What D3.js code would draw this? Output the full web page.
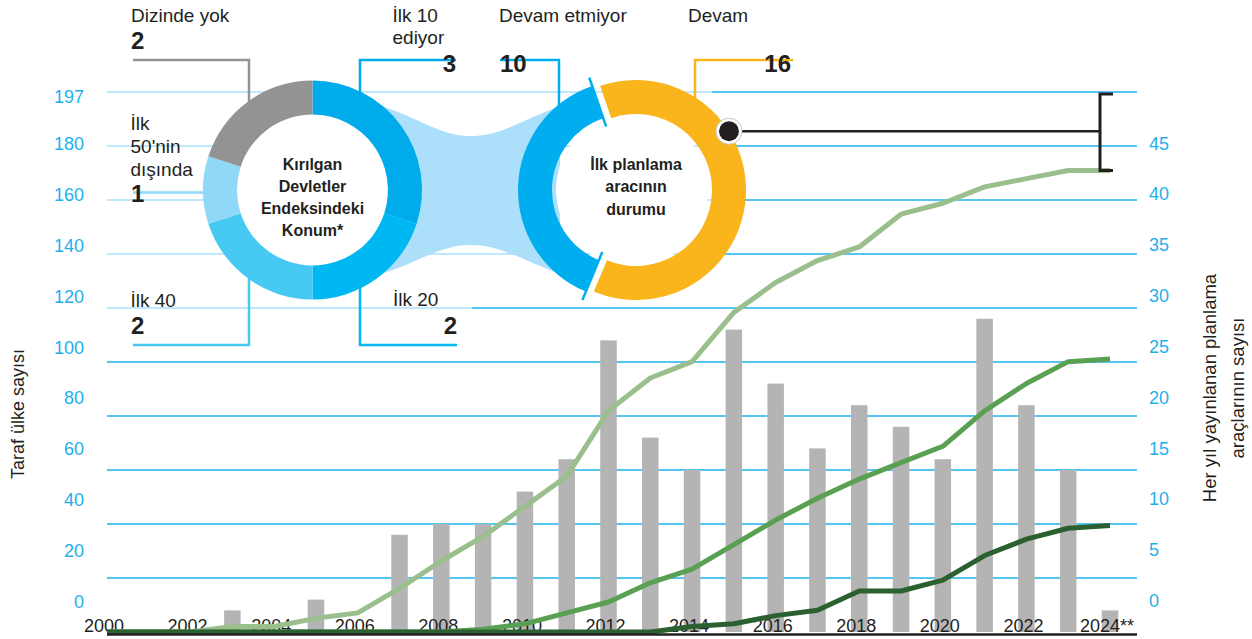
<!DOCTYPE html>
<html><head><meta charset="utf-8">
<script src="https://cdn.jsdelivr.net/npm/d3@7"></script>
<style>
html,body{margin:0;padding:0;background:#fff;}
svg{display:block;font-family:"Liberation Sans",Arial,Helvetica,sans-serif;}
</style></head><body>
<svg id="chart" width="1252" height="639"></svg>
<script>
// ---------- data ----------
const years = [2000,2001,2002,2003,2004,2005,2006,2007,2008,2009,2010,2011,2012,2013,2014,2015,2016,2017,2018,2019,2020,2021,2022,2023,2024];
const toolsPerYear = [0,0,0,2,0,3,0,9,10,10,13,16,27,18,15,28,23,17,21,19,16,29,21,15,2];
const firstTool  = [0,0,0,2,2,5,7,16,26,35,46,57,81,93,99,117,128,136,141,153,157,163,166,169,169];
const secondTool = [0,0,0,0,0,0,0,0,0,1,3,7,11,18,23,32,41,49,56,62,68,81,91,99,100];
const thirdTool  = [0,0,0,0,0,0,0,0,0,0,0,0,0,0,2,3,6,8,15,15,19,28,34,38,39];
const tickYears = [2000,2002,2004,2006,2008,2010,2012,2014,2016,2018,2020,2022,2024];
const tickYearLabels = ["2000","2002","2004","2006","2008","2010","2012","2014","2016","2018","2020","2022","2024**"];
const leftTicks = [0,20,40,60,80,100,120,140,160,180,197];
const rightTicks = [0,5,10,15,20,25,30,35,40,45];
const gridValues = [5,10,15,20,25,30,35,40,45,50];
const fsiLabels = ["İlk 10","İlk 20","İlk 40","İlk 50'nin dışında","Dizinde yok"];
const fsiValues = [3,2,2,1,2];
const statusLabels = ["Devam","Devam etmiyor"];
const statusValues = [16,10];
const bracketRange = [169,197];
const leftTitle = "Taraf ülke sayısı";
const rightTitle = ["Her yıl yayınlanan planlama","araçlarının sayısı"];

// ---------- colours ----------
const C = {
  grid:"#1db3ee", tick:"#1fb0ec", text:"#231f20", bar:"#b5b4b5",
  g1:"#9abf8c", g2:"#5aa052", g3:"#2b6130",
  fsi:["#00abec","#00b8f1","#46c9f3","#8fd8f7","#939393"],
  status:["#f9b51b","#00aeef"], link:"#abdffa"
};

const svg = d3.select("#chart");
const x = d3.scaleLinear().domain([2000,2024]).range([107,1110]);
const yTools = d3.scaleLinear().domain([0,50]).range([632,92]);
const yCountries = d3.scaleLinear().domain([0,197]).range([632,94]);
const leftLabelY = d3.scaleLinear().domain([0,180,197]).range([608,150,103.3]);
const rightLabelY = d3.scaleLinear().domain([0,45]).range([607,149.5]);

// gridlines
svg.append("g").selectAll("line").data(gridValues).join("line")
  .attr("x1",107).attr("x2",1137)
  .attr("y1",d=>yTools(d)).attr("y2",d=>yTools(d))
  .attr("stroke",C.grid).attr("stroke-width",1.5);

// pale overlay over the upper-left gridlines
svg.append("path")
  .attr("d","M100,84 L712,84 L712,300 L472,300 L472,318 L100,318 Z")
  .attr("fill","#fff").attr("opacity",0.62);

// tick labels
svg.append("g").selectAll("text").data(leftTicks).join("text")
  .attr("x",84).attr("y",d=>leftLabelY(d)).attr("text-anchor","end")
  .attr("font-size",18).attr("fill",C.tick).text(d=>d);
svg.append("g").selectAll("text").data(rightTicks).join("text")
  .attr("x",1149).attr("y",d=>rightLabelY(d))
  .attr("font-size",18).attr("fill",C.tick).text(d=>d);

// axis titles
svg.append("text").attr("transform","translate(24,414) rotate(-90)")
  .attr("text-anchor","middle").attr("font-size",18).attr("fill",C.text).text(leftTitle);
svg.append("g").selectAll("text").data(rightTitle).join("text")
  .attr("transform",(d,i)=>`translate(${1216+i*28},388) rotate(-90)`)
  .attr("text-anchor","middle").attr("font-size",18.5).attr("fill",C.text).text(d=>d);

// bars
const barData = years.map((y,i)=>({y,v:toolsPerYear[i]})).filter(d=>d.v>0);
svg.append("g").selectAll("rect").data(barData).join("rect")
  .attr("x",d=>x(d.y)-8.25).attr("width",16.5)
  .attr("y",d=>yTools(d.v)).attr("height",d=>yTools(0)-yTools(d.v))
  .attr("fill",C.bar);

// x labels
svg.append("g").selectAll("text").data(tickYears).join("text")
  .attr("x",d=>x(d)-3).attr("y",632).attr("text-anchor","middle")
  .attr("font-size",18).attr("fill",C.text).text((d,i)=>tickYearLabels[i]);

// lines
const line = d3.line().x((d,i)=>x(years[i])).y(d=>yCountries(d));
[[firstTool,C.g1],[secondTool,C.g2],[thirdTool,C.g3]].forEach(([s,c])=>{
  svg.append("path").attr("d",line(s)).attr("fill","none")
    .attr("stroke",c).attr("stroke-width",5).attr("stroke-linejoin","round");
});

// axis line
svg.append("line").attr("x1",107).attr("x2",1137).attr("y1",634.5).attr("y2",634.5)
  .attr("stroke",C.text).attr("stroke-width",2.5);

// ---------- donuts ----------
const L = {cx:312.5, cy:190, ri:75.5, ro:109.5};
const R = {cx:632, cy:190, ri:76, ro:110, oOff:4, bOff:-4};

// connector
svg.append("path")
  .attr("d",`M378,105 C420,118 440,136 470,136 C500,136 520,121 560,106 L560,274 C520,259 500,245 470,245 C440,245 420,262 378,275 Z`)
  .attr("fill",C.link);

// leader lines
const leader = (pts,color)=>svg.append("polyline").attr("points",pts.map(p=>p.join(",")).join(" "))
  .attr("fill","none").attr("stroke",color).attr("stroke-width",2.5);
leader([[133,60],[249,60],[249,106]],C.fsi[4]);
leader([[456,60],[360,60],[360,96]],C.fsi[0]);
leader([[133,192.5],[210,192.5]],C.fsi[3]);
leader([[133,345],[249,345],[249,276]],C.fsi[2]);
leader([[360,284],[360,345],[457,345]],C.fsi[1]);
leader([[500,60],[559,60],[559,110]],C.status[1]);
leader([[793,60],[695,60],[695,100]],C.status[0]);

// white interiors
svg.append("circle").attr("cx",L.cx).attr("cy",L.cy).attr("r",L.ri).attr("fill","#fff");
svg.append("circle").attr("cx",R.cx).attr("cy",R.cy).attr("r",R.ri).attr("fill","#fff");

// left donut
const pieL = d3.pie().sort(null).value(d=>d)(fsiValues);
const arcL = d3.arc().innerRadius(L.ri).outerRadius(L.ro);
svg.append("g").attr("transform",`translate(${L.cx},${L.cy})`)
  .selectAll("path").data(pieL).join("path").attr("d",arcL).attr("fill",(d,i)=>C.fsi[i]);

// right donut
const a0 = -19*Math.PI/180;
const pieR = d3.pie().sort(null).value(d=>d).startAngle(a0).endAngle(a0+2*Math.PI)(statusValues);
const arcR = d3.arc().innerRadius(R.ri).outerRadius(R.ro);
const offs = [R.oOff,R.bOff];
svg.append("g").selectAll("path").data(pieR).join("path")
  .attr("transform",(d,i)=>`translate(${R.cx+offs[i]},${R.cy})`)
  .attr("d",arcR).attr("fill",(d,i)=>C.status[i]);
// blue edge ticks
const blue = pieR[1];
[blue.startAngle, blue.endAngle].forEach(a=>{
  const cx = R.cx+R.bOff, cy = R.cy;
  svg.append("line")
    .attr("x1",cx+67*Math.sin(a)).attr("y1",cy-67*Math.cos(a))
    .attr("x2",cx+119*Math.sin(a)).attr("y2",cy-119*Math.cos(a))
    .attr("stroke",C.status[1]).attr("stroke-width",2.5);
});

// dot + connector to bracket
const dotA = 57.7*Math.PI/180;
const dx = R.cx+R.oOff+R.ro*Math.sin(dotA), dy = R.cy-R.ro*Math.cos(dotA);
svg.append("line").attr("x1",dx).attr("x2",1100).attr("y1",dy).attr("y2",dy)
  .attr("stroke",C.text).attr("stroke-width",2.5);
svg.append("polyline")
  .attr("points",`1113,${yCountries(bracketRange[1])} 1100,${yCountries(bracketRange[1])} 1100,${yCountries(bracketRange[0])} 1113,${yCountries(bracketRange[0])}`)
  .attr("fill","none").attr("stroke",C.text).attr("stroke-width",3);
svg.append("circle").attr("cx",dx).attr("cy",dy).attr("r",13).attr("fill","#fff").attr("stroke","#c8c8c8").attr("stroke-width",1);
svg.append("circle").attr("cx",dx).attr("cy",dy).attr("r",10).attr("fill",C.text);

// centre texts
const centre = (lines,cx,y0)=>svg.append("g").selectAll("text").data(lines).join("text")
  .attr("x",cx).attr("y",(d,i)=>y0+i*22.3).attr("text-anchor","middle")
  .attr("font-size",16).attr("font-weight","bold").attr("fill",C.text).text(d=>d);
centre(["Kırılgan","Devletler","Endeksindeki","Konum*"],L.cx,169.5);
centre(["İlk planlama","aracının","durumu"],636,170);

// labels
const lab = (t,x,y,anchor)=>svg.append("text").attr("x",x).attr("y",y)
  .attr("text-anchor",anchor||"start").attr("font-size",19).attr("fill",C.text).text(t);
const num = (t,x,y,anchor)=>svg.append("text").attr("x",x).attr("y",y)
  .attr("text-anchor",anchor||"start").attr("font-size",24).attr("font-weight","bold").attr("fill",C.text).text(t);

lab(fsiLabels[4],131,21.5); num(fsiValues[4],131,49);
lab("İlk 10",392.5,21.5); lab("ediyor",392.5,44); num(fsiValues[0],456,72,"end");
lab(statusLabels[1],499,21.5); num(statusValues[1],500,72);
lab(statusLabels[0],688,21.5); num(statusValues[0],791,72,"end");
lab("İlk",130.5,130); lab("50'nin",130.5,153); lab("dışında",130.5,175.5); num(fsiValues[3],131,202);
lab(fsiLabels[2],130.5,306.5); num(fsiValues[2],131,334);
lab(fsiLabels[1],393,306); num(fsiValues[1],457,334,"end");
</script>
</body></html>
